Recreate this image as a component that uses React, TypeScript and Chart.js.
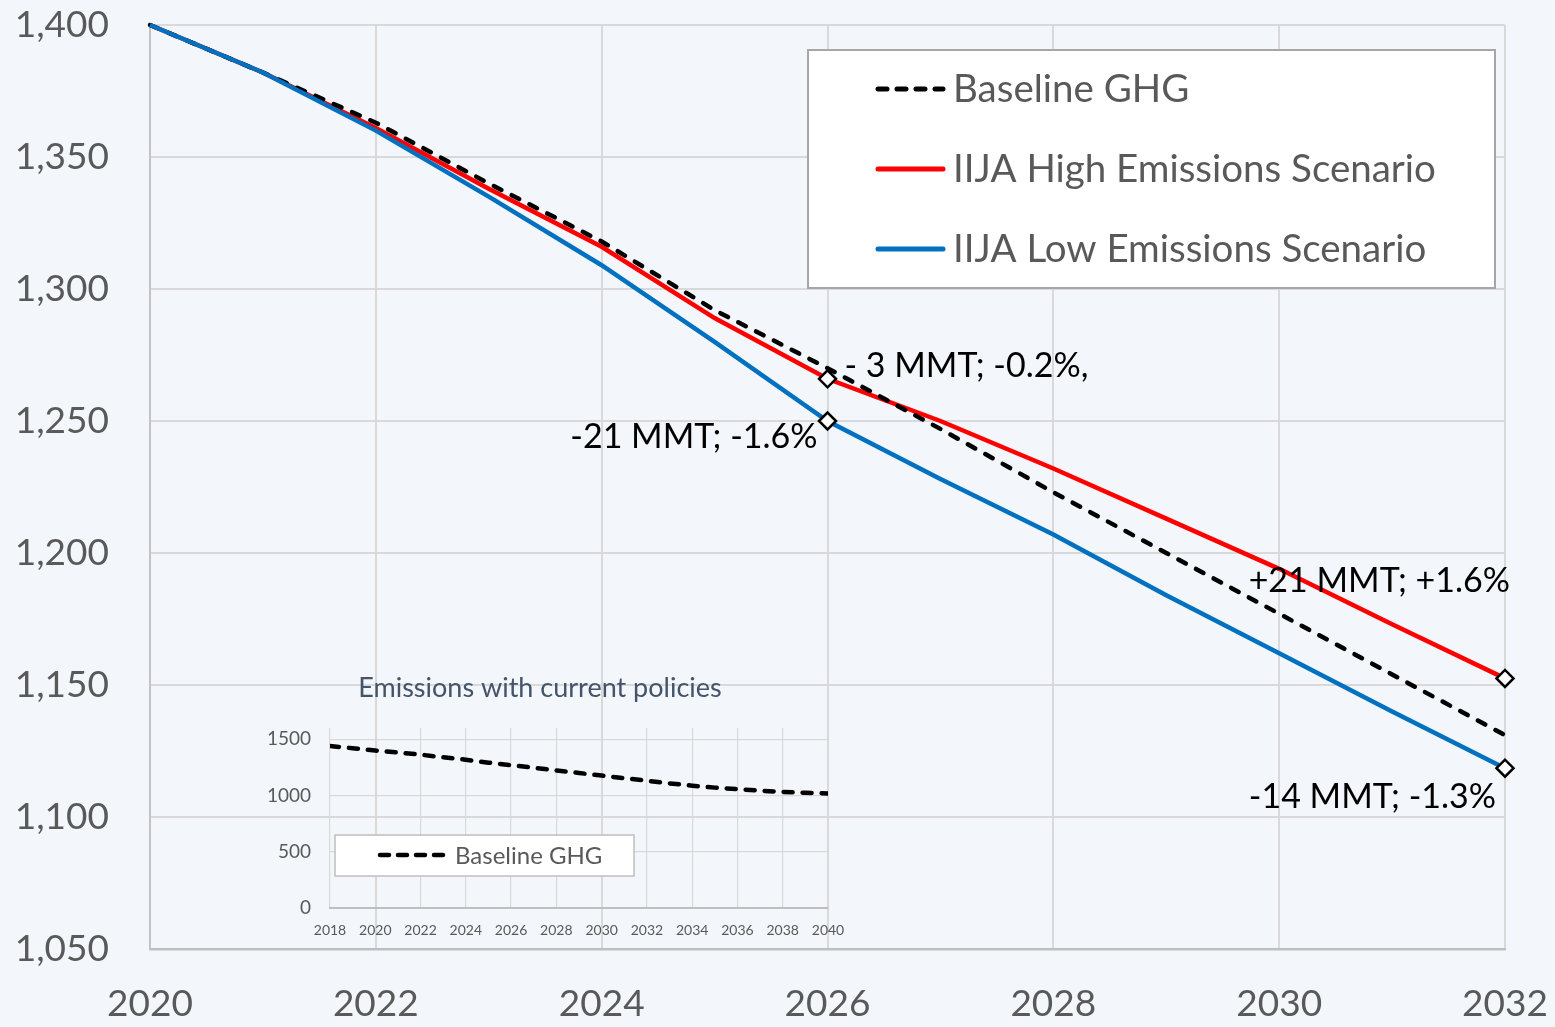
import { useEffect, useRef } from "react";
import { Chart, registerables } from "chart.js";

Chart.register(...registerables);

// ---------- Main chart data ----------
const years = [2020, 2021, 2022, 2023, 2024, 2025, 2026, 2027, 2028, 2029, 2030, 2031, 2032];
const baselineGHG = [1400, 1382, 1363, 1340, 1318, 1292, 1270, 1247, 1223, 1200, 1177, 1154, 1131];
const highScenario = [1400, 1382, 1361, 1338, 1316, 1289, 1266, 1250, 1232, 1213, 1194, 1173, 1152.5];
const lowScenario = [1400, 1382, 1360, 1335, 1309, 1280, 1250, 1228, 1207, 1184, 1162, 1140, 1118.5];
const seriesLabels = ["Baseline GHG", "IIJA High Emissions Scenario", "IIJA Low Emissions Scenario"];
const markerYears = [2026, 2032];

// annotations: text, dataset index, year
const annotationTexts = ["- 3 MMT; -0.2%,", "-21 MMT; -1.6%", "+21 MMT; +1.6%", "-14 MMT; -1.3%"];
const annotationSeries = [1, 2, 1, 2];
const annotationYears = [2026, 2026, 2032, 2032];

// ---------- Inset chart data ----------
const insetYears = [2018, 2019, 2020, 2021, 2022, 2023, 2024, 2025, 2026, 2027, 2028, 2029, 2030, 2031, 2032, 2033, 2034, 2035, 2036, 2037, 2038, 2039, 2040];
const insetBaseline = [1440, 1420, 1400, 1382, 1363, 1340, 1318, 1292, 1270, 1247, 1223, 1200, 1177, 1154, 1131, 1108, 1087, 1070, 1056, 1043, 1032, 1024, 1018];
const insetYTicks = [0, 500, 1000, 1500];
const insetTitle = "Emissions with current policies";

const FONT = "Lato";
const BG = "#F3F6FA";
const GRID = "#d9d9d9";
const TEXT = "#595959";

// annotation placement (pixel offsets from the anchored point)
const annotationPlacement = [
  { dx: 17, dy: -13, align: "left" },
  { dx: -10, dy: 16, align: "right" },
  { dx: 5, dy: -97, align: "right" },
  { dx: -9, dy: 29, align: "right" },
];

function zeroPad(s: any) {
  s.paddingTop = 0;
  s.paddingBottom = 0;
  s.paddingLeft = 0;
  s.paddingRight = 0;
}

const mainDecorPlugin = {
  id: "mainDecor",
  afterDatasetsDraw(chart: any) {
    const ctx = chart.ctx;
    ctx.save();
    // annotations
    ctx.font = `34px ${FONT}`;
    ctx.fillStyle = "#000";
    ctx.textBaseline = "middle";
    annotationTexts.forEach((t, i) => {
      const meta = chart.getDatasetMeta(annotationSeries[i]);
      const idx = years.indexOf(annotationYears[i]);
      const pt = meta.data[idx];
      const p = annotationPlacement[i];
      ctx.textAlign = p.align;
      ctx.fillText(t, pt.x + p.dx, pt.y + p.dy);
    });
    // legend box
    const bx = 808, by = 50, bw = 687, bh = 238;
    ctx.fillStyle = "#ffffff";
    ctx.fillRect(bx, by, bw, bh);
    ctx.strokeStyle = "#a6a6a6";
    ctx.lineWidth = 2;
    ctx.strokeRect(bx, by, bw, bh);
    chart.data.datasets.forEach((ds: any, i: number) => {
      const y = 89 + i * 80;
      ctx.beginPath();
      ctx.lineCap = "round";
      ctx.setLineDash(ds.borderDash && ds.borderDash.length ? [9, 10] : []);
      ctx.strokeStyle = ds.borderColor;
      ctx.lineWidth = 5;
      ctx.moveTo(878, y);
      ctx.lineTo(943, y);
      ctx.stroke();
      ctx.setLineDash([]);
      ctx.fillStyle = TEXT;
      ctx.font = `38.5px ${FONT}`;
      ctx.textAlign = "left";
      ctx.textBaseline = "middle";
      ctx.fillText(ds.label, 953, y + 1);
    });
    ctx.restore();
  },
};

const insetDecorPlugin = {
  id: "insetDecor",
  afterDatasetsDraw(chart: any) {
    const ctx = chart.ctx;
    ctx.save();
    ctx.font = `27px ${FONT}`;
    ctx.fillStyle = "#44546A";
    ctx.textAlign = "center";
    ctx.textBaseline = "middle";
    ctx.fillText(insetTitle, 290, 23);
    // legend
    ctx.fillStyle = "#ffffff";
    ctx.fillRect(85, 170, 299, 41);
    ctx.strokeStyle = "#bfbfbf";
    ctx.lineWidth = 1.5;
    ctx.strokeRect(85, 170, 299, 41);
    const ds = chart.data.datasets[0];
    ctx.beginPath();
    ctx.lineCap = "round";
    ctx.setLineDash([9, 9]);
    ctx.strokeStyle = "#000";
    ctx.lineWidth = 4.5;
    ctx.moveTo(130, 190);
    ctx.lineTo(200, 190);
    ctx.stroke();
    ctx.setLineDash([]);
    ctx.fillStyle = TEXT;
    ctx.font = `24px ${FONT}`;
    ctx.textAlign = "left";
    ctx.fillText(ds.label, 205, 191);
    ctx.restore();
  },
};

function toXY(xs: number[], ys: number[]) {
  return xs.map((x, i) => ({ x, y: ys[i] }));
}

export default function App() {
  const mainRef = useRef<HTMLCanvasElement>(null);
  const insetRef = useRef<HTMLCanvasElement>(null);

  useEffect(() => {
    const markerRadius = years.map((y) => (markerYears.includes(y) ? 8.5 : 0));
    const main = new Chart(mainRef.current!, {
      type: "line",
      data: {
        datasets: [
          {
            label: seriesLabels[0],
            data: toXY(years, baselineGHG),
            borderColor: "#000000",
            borderWidth: 4.5,
            borderDash: [8.5, 11.5],
            borderCapStyle: "round",
            pointRadius: 0,
            fill: false,
            clip: false,
            order: 1,
          },
          {
            label: seriesLabels[1],
            data: toXY(years, highScenario),
            borderColor: "#FF0000",
            borderWidth: 4.5,
            pointStyle: "rectRot",
            pointRadius: markerRadius,
            pointBackgroundColor: "#ffffff",
            pointBorderColor: "#000000",
            pointBorderWidth: 2.5,
            fill: false,
            clip: false,
            order: 2,
          },
          {
            label: seriesLabels[2],
            data: toXY(years, lowScenario),
            borderColor: "#0070C0",
            borderWidth: 4.5,
            pointStyle: "rectRot",
            pointRadius: markerRadius,
            pointBackgroundColor: "#ffffff",
            pointBorderColor: "#000000",
            pointBorderWidth: 2.5,
            fill: false,
            clip: false,
            order: 0,
          },
        ],
      } as any,
      options: {
        animation: false,
        responsive: false,
        maintainAspectRatio: false,
        layout: { padding: { top: 25, right: 50, bottom: 0, left: 0 } },
        plugins: { legend: { display: false }, tooltip: { enabled: false }, title: { display: false } },
        elements: { line: { tension: 0 } },
        scales: {
          x: {
            type: "linear",
            min: 2020,
            max: 2032,
            ticks: {
              stepSize: 2,
              color: TEXT,
              font: { family: FONT, size: 37 },
              padding: 33,
              maxRotation: 0,
              callback: (v: any) => String(v),
            },
            grid: { color: GRID, lineWidth: 2, drawTicks: false },
            border: { color: "#bfbfbf", width: 2.5 },
            afterFit: (s: any) => {
              s.height = 78;
              zeroPad(s);
            },
          },
          y: {
            min: 1050,
            max: 1400,
            ticks: {
              stepSize: 50,
              color: TEXT,
              font: { family: FONT, size: 37 },
              padding: 41,
              callback: (v: any) => Number(v).toLocaleString("en-US"),
            },
            grid: { color: GRID, lineWidth: 2, drawTicks: false },
            border: { color: "#c4c4c4", width: 2 },
            afterFit: (s: any) => {
              s.width = 150;
              zeroPad(s);
            },
          },
        },
      } as any,
      plugins: [mainDecorPlugin],
    });

    const inset = new Chart(insetRef.current!, {
      type: "line",
      data: {
        datasets: [
          {
            label: seriesLabels[0],
            data: toXY(insetYears, insetBaseline),
            borderColor: "#000000",
            borderWidth: 4.5,
            borderDash: [9, 10],
            borderCapStyle: "round",
            pointRadius: 0,
            fill: false,
          },
        ],
      } as any,
      options: {
        animation: false,
        responsive: false,
        maintainAspectRatio: false,
        layout: { padding: { top: 63, right: 22, bottom: 0, left: 0 } },
        plugins: { legend: { display: false }, tooltip: { enabled: false }, title: { display: false } },
        elements: { line: { tension: 0 } },
        scales: {
          x: {
            type: "linear",
            min: 2018,
            max: 2040,
            ticks: {
              stepSize: 2,
              color: TEXT,
              font: { family: FONT, size: 14 },
              padding: 14,
              maxRotation: 0,
              autoSkip: false,
              callback: (v: any) => String(v),
            },
            grid: { color: GRID, lineWidth: 1.2, drawTicks: false },
            border: { color: "#bfbfbf", width: 2 },
            afterFit: (s: any) => {
              s.height = 47;
              zeroPad(s);
            },
          },
          y: {
            min: 0,
            max: 1600,
            afterBuildTicks: (s: any) => {
              s.ticks = insetYTicks.map((v) => ({ value: v }));
            },
            ticks: {
              color: TEXT,
              font: { family: FONT, size: 19 },
              padding: 19,
              callback: (v: any) => String(v),
            },
            grid: { color: GRID, lineWidth: 1.2, drawTicks: false },
            border: { display: false },
            afterFit: (s: any) => {
              s.width = 80;
              zeroPad(s);
            },
          },
        },
      } as any,
      plugins: [insetDecorPlugin],
    });

    return () => {
      main.destroy();
      inset.destroy();
    };
  }, []);

  return (
    <div
      style={{
        position: "absolute",
        left: 0,
        top: 0,
        width: 1555,
        height: 1027,
        background: BG,
        overflow: "hidden",
      }}
    >
      <canvas
        ref={mainRef}
        width={1555}
        height={1027}
        style={{ position: "absolute", left: 0, top: 0, width: 1555, height: 1027 }}
      />
      <canvas
        ref={insetRef}
        width={600}
        height={290}
        style={{ position: "absolute", left: 250, top: 665, width: 600, height: 290 }}
      />
    </div>
  );
}
